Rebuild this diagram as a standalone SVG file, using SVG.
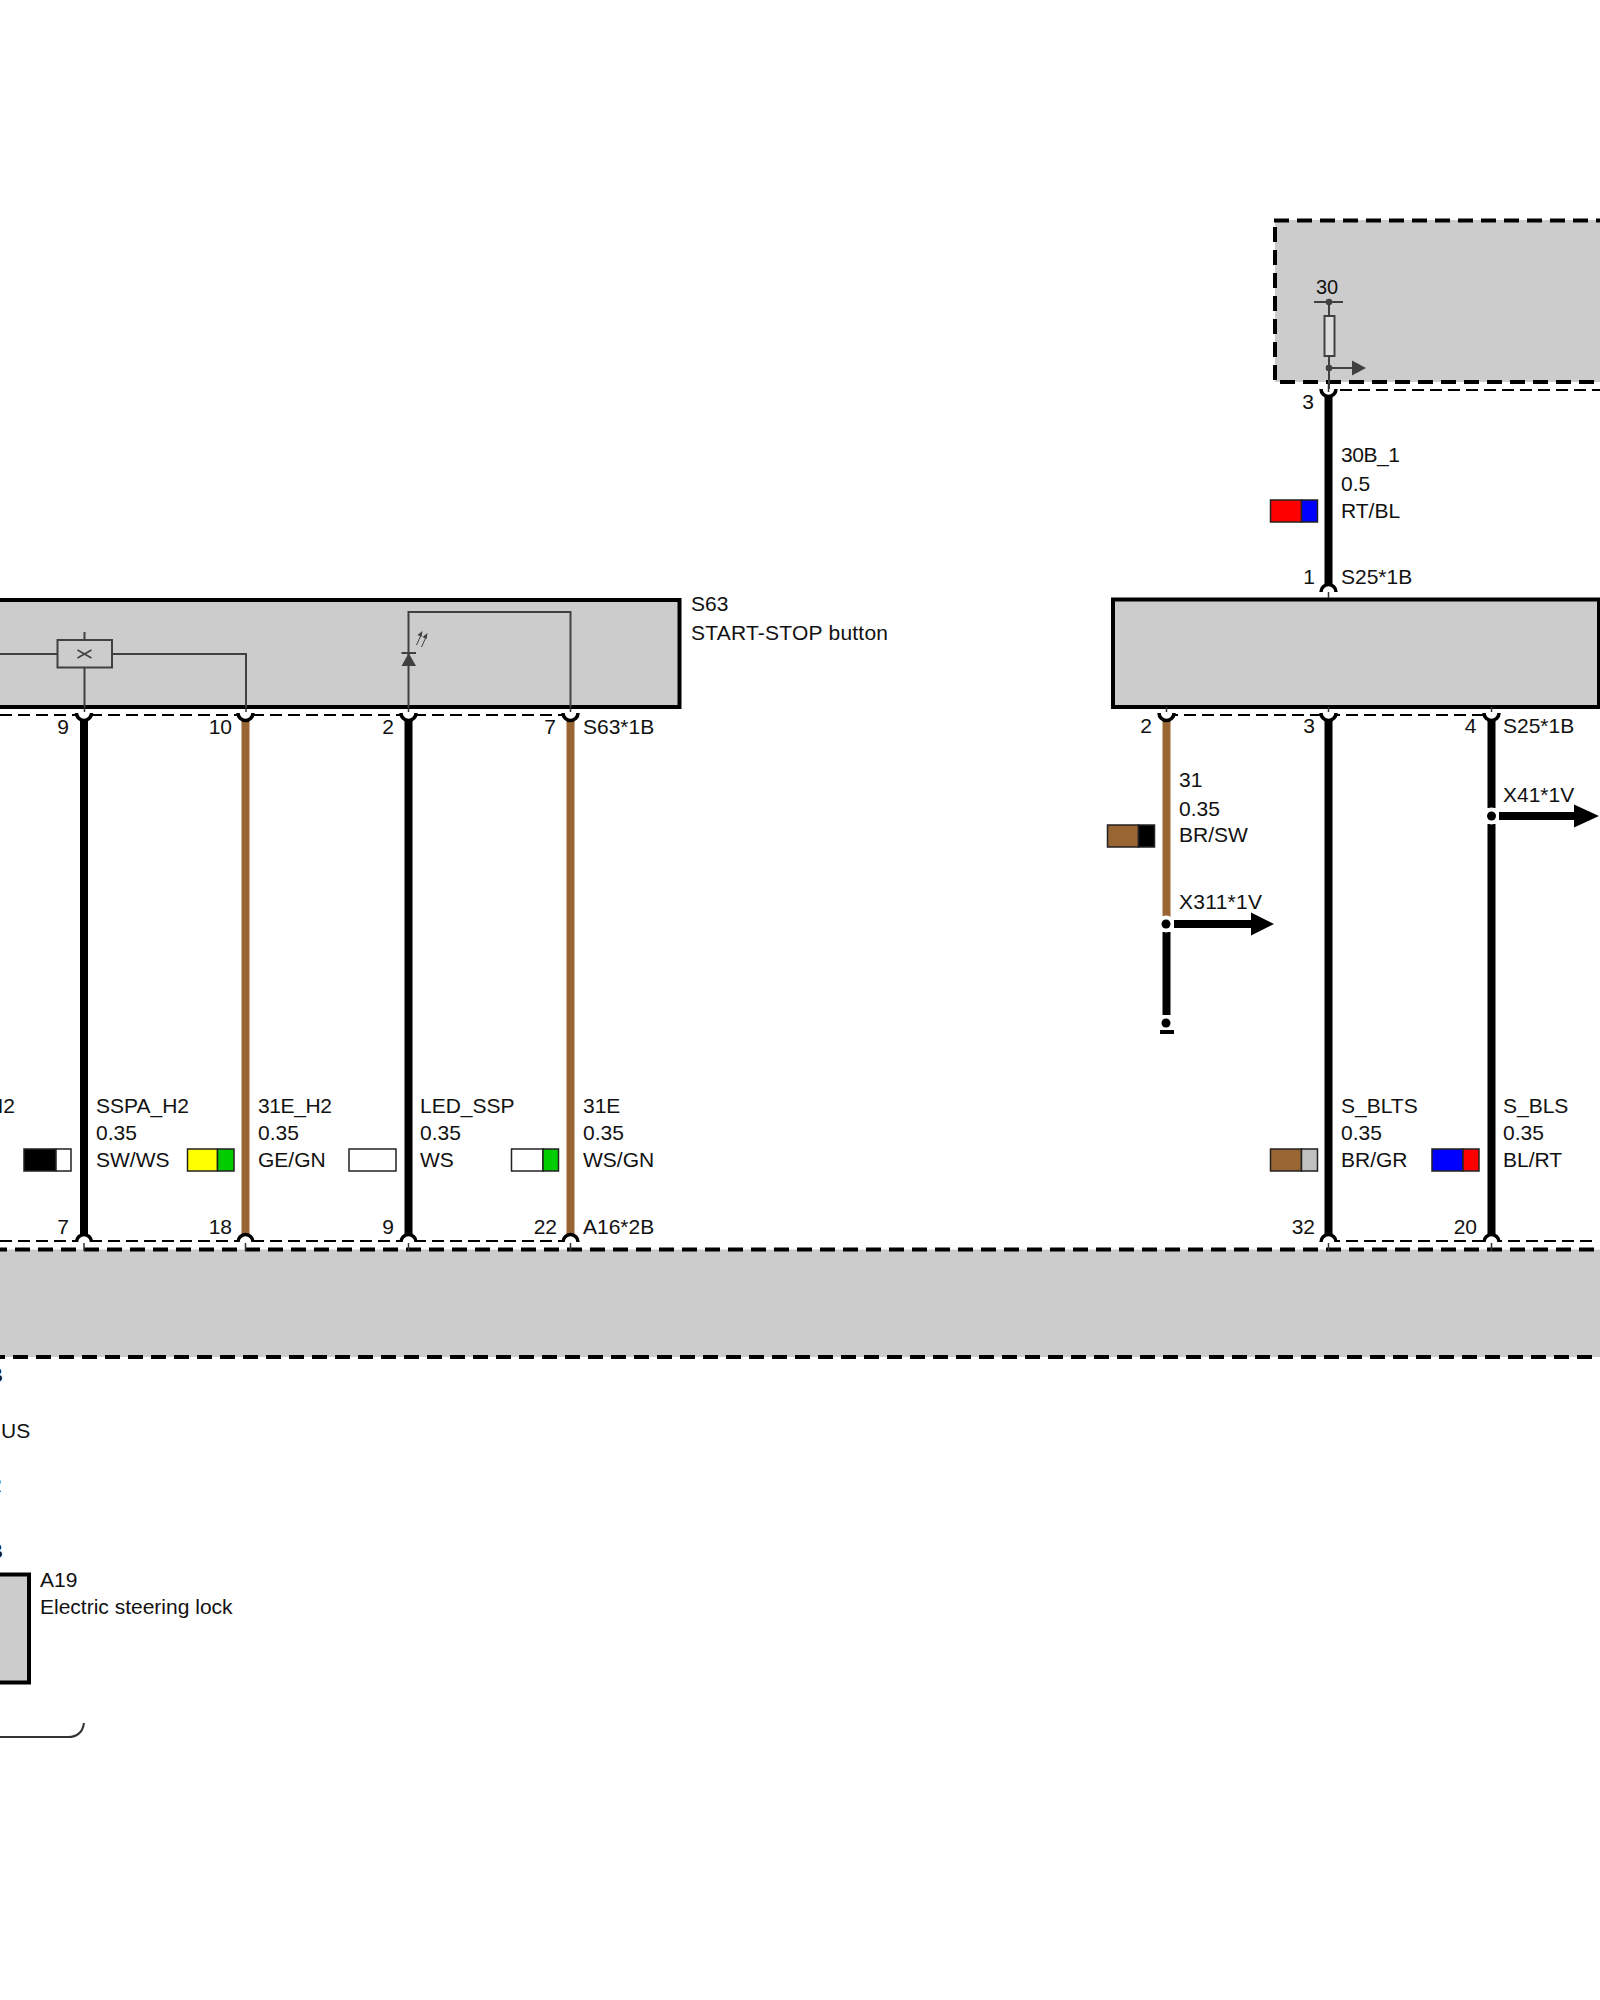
<svg xmlns="http://www.w3.org/2000/svg" width="1600" height="2000" viewBox="0 0 1600 2000">
<style>
text{font-family:"Liberation Sans",Arial,sans-serif;font-size:21px;fill:#111}
.e{text-anchor:end}
.m{text-anchor:middle}
.solid{fill:#ccc;stroke:#000;stroke-width:4}
.fill{fill:#ccc}
.dk{fill:none;stroke:#000;stroke-width:4;stroke-dasharray:15 8}
.dt{fill:none;stroke:#000;stroke-width:2;stroke-dasharray:12 6}
.in{fill:none;stroke:#404040;stroke-width:2}
.w{fill:none;stroke:#000;stroke-width:8}
.b{fill:none;stroke:#996633;stroke-width:8}
.sw{stroke:#222;stroke-width:1.5}
.cf{fill:#fff}
.cs{fill:none;stroke:#000;stroke-width:3.5}
.tk{fill:none;stroke:#333;stroke-width:1.5}
</style>
<defs>
<g id="cupD"><path class="cf" d="M-7.5 0A7.5 7.5 0 0 0 7.5 0Z"/><path class="cs" d="M-7.5 0A7.5 7.5 0 0 0 7.5 0"/></g>
<g id="cupU"><path class="cf" d="M-7.5 0A7.5 7.5 0 0 1 7.5 0Z"/><path class="cs" d="M-7.5 0A7.5 7.5 0 0 1 7.5 0"/></g>
<g id="dot"><circle r="8.5" fill="#fff"/><circle r="4.5" fill="#000"/></g>
</defs>
<rect width="1600" height="2000" fill="#fff"/>

<g id="node-fuse-box">
<rect class="fill" x="1275" y="220" width="325" height="162"/>
<path class="dk" d="M1274 220.500H1600"/>
<path class="dk" d="M1275 227V382"/>
<path class="dk" d="M1280 382H1600"/>
<text class="m" x="1327" y="294" style="font-size:20px">30</text>
<path class="in" d="M1314 302H1343M1329 302V316M1329 356V392M1329 368H1354"/>
<circle cx="1329" cy="302" r="3.3" fill="#404040"/>
<circle cx="1329" cy="368" r="3.3" fill="#404040"/>
<rect x="1324.500" y="316" width="10" height="40" fill="#ddd" stroke="#404040" stroke-width="2"/>
<path d="M1352 360.500L1366 368L1352 375.500Z" fill="#404040"/>
</g>

<g id="node-s63">
<rect class="solid" x="-10" y="600" width="689.500" height="107"/>
<path class="in" d="M0 654H57.500M112 654H246V707M84.500 632V640M84.500 668V707"/>
<rect x="57.500" y="640" width="54.500" height="27.500" fill="#ccc" stroke="#404040" stroke-width="2"/>
<path class="in" d="M77.500 650L91.500 658M91.500 650L77.500 658" style="stroke-width:1.500"/>
<path class="in" d="M408.500 707V612H570.500V707"/>
<path d="M401.500 666H416L408.700 653Z" fill="#404040"/>
<path class="in" d="M401.500 653H416"/>
<path class="in" style="stroke-width:1" d="M416.500 645L421.500 634M421.500 647L426.500 636"/>
<path d="M422.500 631L417.500 635L421.500 637ZM427.500 633L422.500 637L426.500 639Z" fill="#404040"/>
<text x="691" y="611">S63</text>
<text x="691" y="639.500" textLength="197" lengthAdjust="spacing">START-STOP button</text>
</g>

<g id="node-s25">
<rect class="solid" x="1113" y="599.500" width="486" height="107.500"/>
</g>

<g id="node-a16">
<rect class="fill" x="-10" y="1249.500" width="1610" height="107.500"/>
<path class="dk" d="M-8 1249.500H1594"/>
<path class="dk" d="M-10 1357H1600"/>
</g>

<g id="node-a19">
<rect class="solid" x="-10" y="1574.500" width="39" height="108"/>
<text x="40" y="1587">A19</text>
<text x="40" y="1614">Electric steering lock</text>
<path d="M-5 1737H68Q82 1737 84 1723" fill="none" stroke="#333" stroke-width="2"/>
</g>

<g id="connectors">
<path class="dt" d="M1340 390H1600"/>
<path class="dt" d="M0 715H570"/>
<path class="dt" d="M1166 715H1491"/>
<path class="dt" d="M0 1241H570"/>
<path class="dt" d="M1328 1241H1596"/>

<path class="w" d="M84 720V1236"/>
<path class="b" d="M245.500 720V1236"/>
<path class="w" d="M408.500 720V1236"/>
<path class="b" d="M570.500 720V1236"/>
<path class="b" d="M1166.500 720V917"/>
<path class="w" d="M1166.500 932V1015"/>
<path class="w" d="M1328.500 395V586"/>
<path class="w" d="M1328.500 720V1236"/>
<path class="w" d="M1491.500 720V808"/>
<path class="w" d="M1491.500 824V1236"/>

<use href="#cupD" x="84" y="713"/>
<use href="#cupD" x="245.500" y="713"/>
<use href="#cupD" x="408.500" y="713"/>
<use href="#cupD" x="570.500" y="713"/>
<use href="#cupD" x="1166.500" y="713"/>
<use href="#cupD" x="1328.500" y="713"/>
<use href="#cupD" x="1491.500" y="713"/>
<use href="#cupD" x="1328.500" y="389"/>
<use href="#cupU" x="1328.500" y="592"/>
<use href="#cupU" x="84" y="1242"/>
<use href="#cupU" x="245.500" y="1242"/>
<use href="#cupU" x="408.500" y="1242"/>
<use href="#cupU" x="570.500" y="1242"/>
<use href="#cupU" x="1328.500" y="1242"/>
<use href="#cupU" x="1491.500" y="1242"/>
<path class="tk" d="M84.500 707V712M246 707V712M408.500 707V712M570.500 707V712M1166.500 707V712M1328.500 707V712M1491.500 707V712M1328.500 592V598M1328.500 382V392M84 1243V1251M245.500 1243V1251M408.500 1243V1251M570.500 1243V1251M1328.500 1243V1251M1491.500 1243V1251"/>

<use href="#dot" x="1166" y="924"/>
<path d="M1174 920H1251V912.500L1274 924L1251 935.500V928H1174Z" fill="#000"/>
<use href="#dot" x="1491.500" y="816"/>
<path d="M1499 812H1574V804.500L1599 816L1574 827.500V820H1499Z" fill="#000"/>
<circle cx="1166" cy="1023" r="4.500" fill="#000"/>
<rect x="1160" y="1030" width="14" height="4" fill="#000"/>
</g>

<g id="labels">
<text class="e" x="69" y="734">9</text>
<text class="e" x="232" y="734">10</text>
<text class="e" x="394" y="734">2</text>
<text class="e" x="556" y="734">7</text>
<text x="583" y="734">S63*1B</text>
<text class="e" x="1152" y="733">2</text>
<text class="e" x="1315" y="733">3</text>
<text class="e" x="1476.500" y="733">4</text>
<text x="1503" y="733">S25*1B</text>
<text class="e" x="1314" y="409">3</text>
<text class="e" x="1315" y="584">1</text>
<text x="1341" y="584">S25*1B</text>
<text x="1341" y="462" textLength="59">30B_1</text>
<text x="1341" y="490.500">0.5</text>
<text x="1341" y="517.500">RT/BL</text>
<text x="1179" y="787">31</text>
<text x="1179" y="816">0.35</text>
<text x="1179" y="842">BR/SW</text>
<text x="1179" y="909" textLength="83">X311*1V</text>
<text x="1503" y="802">X41*1V</text>
<text x="-12" y="1113">H2</text>
<text x="96" y="1113">SSPA_H2</text>
<text x="96" y="1140">0.35</text>
<text x="96" y="1167">SW/WS</text>
<text x="258" y="1113" textLength="74">31E_H2</text>
<text x="258" y="1140">0.35</text>
<text x="258" y="1167">GE/GN</text>
<text x="420" y="1113">LED_SSP</text>
<text x="420" y="1140">0.35</text>
<text x="420" y="1167">WS</text>
<text x="583" y="1113">31E</text>
<text x="583" y="1140">0.35</text>
<text x="583" y="1167">WS/GN</text>
<text x="1341" y="1113">S_BLTS</text>
<text x="1341" y="1140">0.35</text>
<text x="1341" y="1167">BR/GR</text>
<text x="1503" y="1113">S_BLS</text>
<text x="1503" y="1140">0.35</text>
<text x="1503" y="1167">BL/RT</text>
<text class="e" x="69" y="1234">7</text>
<text class="e" x="232" y="1234">18</text>
<text class="e" x="394" y="1234">9</text>
<text class="e" x="557" y="1234">22</text>
<text x="583" y="1234">A16*2B</text>
<text class="e" x="1315" y="1234">32</text>
<text class="e" x="1477" y="1234">20</text>
<text class="e" x="3" y="1382">B</text>
<text x="1" y="1438">US</text>
<text class="e" x="2" y="1492">R</text>
<text class="e" x="3" y="1558">B</text>
</g>

<g id="swatches">
<rect class="sw" x="1270.500" y="500" width="31" height="22" fill="#f00"/><rect class="sw" x="1301.500" y="500" width="16" height="22" fill="#00f"/>
<rect class="sw" x="1107.500" y="825" width="31" height="22" fill="#996633"/><rect class="sw" x="1138.500" y="825" width="16" height="22" fill="#000"/>
<rect class="sw" x="24" y="1149" width="32" height="22" fill="#000"/><rect class="sw" x="56" y="1149" width="15" height="22" fill="#fff"/>
<rect class="sw" x="187.500" y="1149" width="30" height="22" fill="#ff0"/><rect class="sw" x="217.500" y="1149" width="16.500" height="22" fill="#0c0"/>
<rect class="sw" x="349" y="1149" width="47" height="22" fill="#fff"/>
<rect class="sw" x="511.500" y="1149" width="31.500" height="22" fill="#fff"/><rect class="sw" x="543" y="1149" width="15.500" height="22" fill="#0c0"/>
<rect class="sw" x="1270.500" y="1149" width="31" height="22" fill="#996633"/><rect class="sw" x="1301.500" y="1149" width="16" height="22" fill="#c0c0c0"/>
<rect class="sw" x="1432" y="1149" width="31" height="22" fill="#00f"/><rect class="sw" x="1463" y="1149" width="16" height="22" fill="#f00"/>
</g>
</svg>
